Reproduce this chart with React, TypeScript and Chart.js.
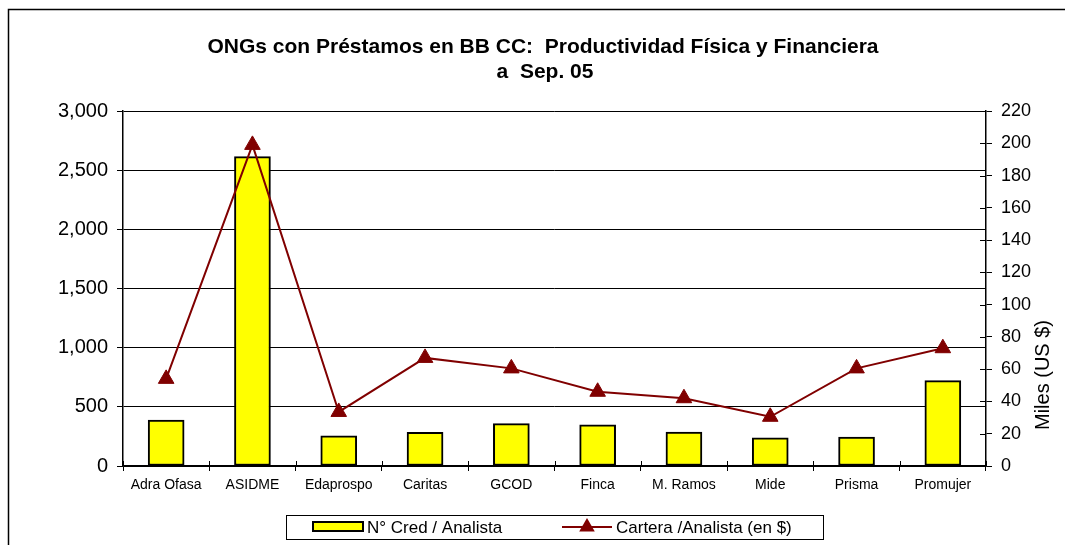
import React, { useEffect, useRef } from "react";
import { Chart, registerables } from "chart.js";

Chart.register(...registerables);

const titleLines = [
  "ONGs con Préstamos en BB CC:  Productividad Física y Financiera",
  "a  Sep. 05",
];
const categories = [
  "Adra Ofasa",
  "ASIDME",
  "Edaprospo",
  "Caritas",
  "GCOD",
  "Finca",
  "M. Ramos",
  "Mide",
  "Prisma",
  "Promujer",
];
const credPerAnalyst = [389, 2614, 256, 285, 358, 347, 287, 239, 245, 721];
const portfolioPerAnalyst = [54, 199, 33.5, 67, 60.5, 46, 42, 30.5, 60.5, 73];
const seriesLabels = ["N° Cred / Analista", "Cartera /Analista (en $)"];
const rightAxisTitle = "Miles (US $)";
const leftAxisRange = [0, 3000];
const leftAxisStep = 500;
const rightAxisRange = [0, 220];
const rightAxisStep = 20;

const FONT = "'Liberation Sans', Arial, sans-serif";
const BAR_FILL = "#FFFF00";
const LINE_COLOR = "#800000";

const decorPlugin = {
  id: "decor",
  afterDraw(chart: any) {
    const ctx = chart.ctx;
    const area = chart.chartArea;
    const xs = chart.scales.x;
    const y1 = chart.scales.y1;
    ctx.save();

    // outer frame
    ctx.strokeStyle = "#000";
    ctx.lineWidth = 1.5;
    ctx.strokeRect(8.5, 9.5, 1200, 800);

    // title
    ctx.fillStyle = "#000";
    ctx.font = `bold 21px ${FONT}`;
    ctx.textAlign = "center";
    ctx.textBaseline = "alphabetic";
    ctx.fillText(titleLines[0], 543, 53);
    ctx.fillText(titleLines[1], 545, 78);

    // x-axis ticks crossing up into the plot
    ctx.strokeStyle = "#000";
    ctx.lineWidth = 1;
    const n = categories.length;
    for (let i = 0; i <= n; i++) {
      const x = Math.round(xs.left + (i * (xs.right - xs.left)) / n) + 0.5;
      ctx.beginPath();
      ctx.moveTo(x, area.bottom - 5);
      ctx.lineTo(x, area.bottom);
      ctx.stroke();
    }
    // right axis ticks crossing inward
    for (const t of y1.ticks) {
      const y = Math.round(y1.getPixelForValue(t.value)) + 0.5;
      ctx.beginPath();
      ctx.moveTo(area.right - 6, y);
      ctx.lineTo(area.right, y);
      ctx.stroke();
    }

    // right axis title
    ctx.save();
    ctx.translate(1049, 375);
    ctx.rotate(-Math.PI / 2);
    ctx.font = `20px ${FONT}`;
    ctx.textAlign = "center";
    ctx.textBaseline = "alphabetic";
    ctx.fillStyle = "#000";
    ctx.fillText(rightAxisTitle, 0, 0);
    ctx.restore();

    // legend
    ctx.lineWidth = 1;
    ctx.strokeStyle = "#000";
    ctx.fillStyle = "#fff";
    ctx.fillRect(286.5, 515.5, 537, 24);
    ctx.strokeRect(286.5, 515.5, 537, 24);
    const cy = 527;
    ctx.fillStyle = BAR_FILL;
    ctx.fillRect(313, 522, 50, 9);
    ctx.lineWidth = 2;
    ctx.strokeStyle = "#000";
    ctx.strokeRect(313, 522, 50, 9);
    ctx.font = `17px ${FONT}`;
    ctx.textAlign = "left";
    ctx.textBaseline = "middle";
    ctx.fillStyle = "#000";
    ctx.fillText(seriesLabels[0], 367, cy + 1);
    ctx.strokeStyle = LINE_COLOR;
    ctx.lineWidth = 2;
    ctx.beginPath();
    ctx.moveTo(562, cy);
    ctx.lineTo(612, cy);
    ctx.stroke();
    ctx.fillStyle = LINE_COLOR;
    const r = 9;
    ctx.beginPath();
    ctx.moveTo(587, cy - r);
    ctx.lineTo(587 + r * Math.cos(Math.PI / 6), cy + r / 2);
    ctx.lineTo(587 - r * Math.cos(Math.PI / 6), cy + r / 2);
    ctx.closePath();
    ctx.fill();
    ctx.fillStyle = "#000";
    ctx.fillText(seriesLabels[1], 616, cy + 1);

    ctx.restore();
  },
};

export default function App() {
  const ref = useRef<HTMLCanvasElement | null>(null);

  useEffect(() => {
    if (!ref.current) return;
    const chart = new Chart(ref.current, {
      type: "bar",
      data: {
        labels: categories,
        datasets: [
          {
            type: "bar",
            label: seriesLabels[0],
            data: credPerAnalyst,
            backgroundColor: BAR_FILL,
            borderColor: "#000",
            borderWidth: 2,
            borderSkipped: false,
            barThickness: 36,
            yAxisID: "y",
            order: 1,
          } as any,
          {
            type: "line",
            label: seriesLabels[1],
            data: portfolioPerAnalyst,
            borderColor: LINE_COLOR,
            backgroundColor: LINE_COLOR,
            borderWidth: 2,
            pointStyle: "triangle",
            pointRadius: 9,
            pointBorderWidth: 1,
            pointBackgroundColor: LINE_COLOR,
            pointBorderColor: LINE_COLOR,
            tension: 0,
            yAxisID: "y1",
            order: 0,
          } as any,
        ],
      },
      options: {
        responsive: false,
        devicePixelRatio: 1,
        animation: false,
        layout: { padding: { left: 0, right: 0, top: 111, bottom: 49 } },
        plugins: {
          legend: { display: false },
          title: { display: false },
          tooltip: { enabled: false },
        },
        scales: {
          x: {
            offset: true,
            grid: {
              display: true,
              drawOnChartArea: false,
              drawTicks: true,
              tickLength: 5,
              color: "#000",
              offset: true,
            },
            border: { display: true, color: "#000", width: 1.5 },
            ticks: {
              color: "#000",
              font: { family: FONT, size: 14 },
              padding: 6,
              maxRotation: 0,
              autoSkip: false,
            },
            afterFit: (s: any) => {
              s.height = 30;
            },
          },
          y: {
            position: "left",
            min: leftAxisRange[0],
            max: leftAxisRange[1],
            grid: {
              color: "#000",
              lineWidth: 1,
              tickLength: 6,
              drawTicks: true,
            },
            border: { display: true, color: "#000", width: 1.5 },
            ticks: {
              stepSize: leftAxisStep,
              color: "#000",
              font: { family: FONT, size: 20 },
              padding: 9,
              callback: (v: any) => Number(v).toLocaleString("en-US"),
            },
            afterFit: (s: any) => {
              s.width = 123;
            },
          },
          y1: {
            position: "right",
            min: rightAxisRange[0],
            max: rightAxisRange[1],
            grid: {
              drawOnChartArea: false,
              color: "#000",
              tickLength: 6,
              drawTicks: true,
            },
            border: { display: true, color: "#000", width: 1.5 },
            ticks: {
              stepSize: rightAxisStep,
              color: "#000",
              font: { family: FONT, size: 18 },
              padding: 9,
            },
            afterFit: (s: any) => {
              s.width = 79;
            },
          },
        },
      },
      plugins: [decorPlugin],
    });
    return () => chart.destroy();
  }, []);

  return (
    <div style={{ position: "absolute", left: 0, top: 0, width: 1065, height: 545, background: "#fff" }}>
      <canvas ref={ref} width={1065} height={545} style={{ display: "block" }} />
    </div>
  );
}
